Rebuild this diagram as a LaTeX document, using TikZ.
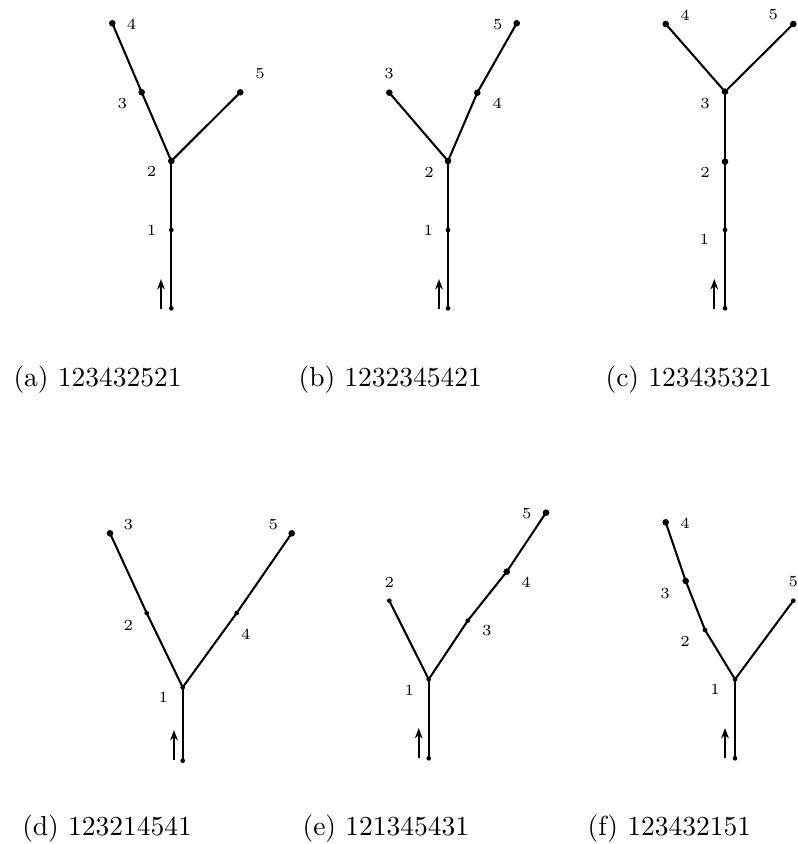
\documentclass[tikz,border=0pt]{standalone}
\usetikzlibrary{arrows.meta}
\begin{document}
\begin{tikzpicture}[
        x=0.3636pt, y=-0.3636pt,
        vertex/.style={circle, fill, minimum size=2.4pt, inner sep=0pt},
        joint/.style={circle, fill, minimum size=1.7pt, inner sep=0pt},
        edge/.style={line width=0.75pt},
        flow/.style={-{Stealth[length=3.8pt,width=2.8pt]}, line width=0.65pt},
        num/.style={font=\fontsize{5.6}{6}\selectfont, inner sep=0pt},
        caption/.style={font=\normalsize, anchor=base west, inner sep=0pt}
    ]
        \useasboundingbox (0,0) rectangle (797,844);

        % Tree (a)
        \node[joint]  (a0) at (171.3,308.3) {};
        \node[joint]  (a1) at (171.3,230) {};
        \node[vertex] (a2) at (171.3,161) {};
        \node[vertex] (a3) at (141.7,92.3) {};
        \node[vertex] (a4) at (112.3,23.3) {};
        \node[vertex] (a5) at (240.3,92.3) {};
        \foreach \u/\v in {a0/a1,a1/a2,a2/a3,a3/a4,a2/a5}
            \draw[edge] (\u.center) -- (\v.center);
        \node[num] at (151.7,230) {1};
        \node[num] at (151.7,171.7) {2};
        \node[num] at (122.3,103.3) {3};
        \node[num] at (131.7,24.3) {4};
        \node[num] at (260,73.3) {5};
        \node[caption] (capa) at (13,386) {(a) 123432521};

        % Tree (b)
        \node[joint]  (b0) at (448,308.3) {};
        \node[joint]  (b1) at (448,230) {};
        \node[vertex] (b2) at (448,161) {};
        \node[vertex] (b3) at (389.3,92.7) {};
        \node[vertex] (b4) at (477.3,92.7) {};
        \node[vertex] (b5) at (516.7,23.3) {};
        \foreach \u/\v in {b0/b1,b1/b2,b2/b3,b2/b4,b4/b5}
            \draw[edge] (\u.center) -- (\v.center);
        \node[num] at (428.3,230) {1};
        \node[num] at (429,172.3) {2};
        \node[num] at (389,74) {3};
        \node[num] at (497.3,103.3) {4};
        \node[num] at (497.7,25) {5};
        \node[caption] (capb) at (298,386) {(b) 1232345421};

        % Tree (c)
        \node[joint]  (c0) at (725,308.3) {};
        \node[joint]  (c1) at (725,230) {};
        \node[vertex] (c2) at (725,161.7) {};
        \node[vertex] (c3) at (725,91.7) {};
        \node[vertex] (c4) at (665.7,24) {};
        \node[vertex] (c5) at (793.3,24) {};
        \foreach \u/\v in {c0/c1,c1/c2,c2/c3,c3/c4,c3/c5}
            \draw[edge] (\u.center) -- (\v.center);
        \node[num] at (704.3,239.3) {1};
        \node[num] at (705,172.3) {2};
        \node[num] at (705,103.3) {3};
        \node[num] at (685,15) {4};
        \node[num] at (773.3,15) {5};
        \node[caption] (capc) at (605,386) {(c) 123435321};

        % Tree (d)
        \node[joint]  (d0) at (182.7,760.7) {};
        \node[joint]  (d1) at (182.7,687.3) {};
        \node[joint]  (d2) at (146.7,613) {};
        \node[vertex] (d3) at (110,533.3) {};
        \node[joint]  (d4) at (236.7,613) {};
        \node[vertex] (d5) at (291.7,533.3) {};
        \foreach \u/\v in {d0/d1,d1/d2,d2/d3,d1/d4,d4/d5}
            \draw[edge] (\u.center) -- (\v.center);
        \node[num] at (163.3,697.3) {1};
        \node[num] at (128.3,625) {2};
        \node[num] at (128.3,525) {3};
        \node[num] at (245.7,634.3) {4};
        \node[num] at (273.3,525) {5};
        \node[caption] (capd) at (21.7,835) {(d) 123214541};

        % Tree (e)
        \node[joint]  (e0) at (428.7,758.3) {};
        \node[joint]  (e1) at (428.7,679.3) {};
        \node[joint]  (e2) at (389.3,600.7) {};
        \node[joint]  (e3) at (467.7,620.7) {};
        \node[vertex] (e4) at (506.7,571.7) {};
        \node[vertex] (e5) at (546,512.7) {};
        \foreach \u/\v in {e0/e1,e1/e2,e1/e3,e3/e4,e4/e5}
            \draw[edge] (\u.center) -- (\v.center);
        \node[num] at (409.3,690) {1};
        \node[num] at (389.3,582.7) {2};
        \node[num] at (486.7,630.7) {3};
        \node[num] at (526,582.7) {4};
        \node[num] at (526.7,513.3) {5};
        \node[caption] (cape) at (302,835) {(e) 121345431};

        % Tree (f)
        \node[joint]  (f0) at (735,758.3) {};
        \node[joint]  (f1) at (735,679.3) {};
        \node[joint]  (f2) at (705,630) {};
        \node[vertex] (f3) at (685.7,581) {};
        \node[vertex] (f4) at (665.7,522.3) {};
        \node[joint]  (f5) at (793.3,600.7) {};
        \foreach \u/\v in {f0/f1,f1/f2,f2/f3,f3/f4,f1/f5}
            \draw[edge] (\u.center) -- (\v.center);
        \node[num] at (715,689.3) {1};
        \node[num] at (685,641.7) {2};
        \node[num] at (665,593.3) {3};
        \node[num] at (685,523.3) {4};
        \node[num] at (793.3,581.7) {5};
        \node[caption] (capf) at (587,835) {(f) 123432151};

        % Direction arrows beside the roots
        \foreach \p/\x/\y in {a/161/309, b/439/309, c/714.3/309,
                              d/174/760, e/418.7/758, f/725/758} {
            \coordinate (\p tail) at (\x,\y);
            \coordinate (\p head) at (\x,\y-30);
            \draw[flow] (\p tail) -- (\p head);
        }
    \end{tikzpicture}
\end{document}
